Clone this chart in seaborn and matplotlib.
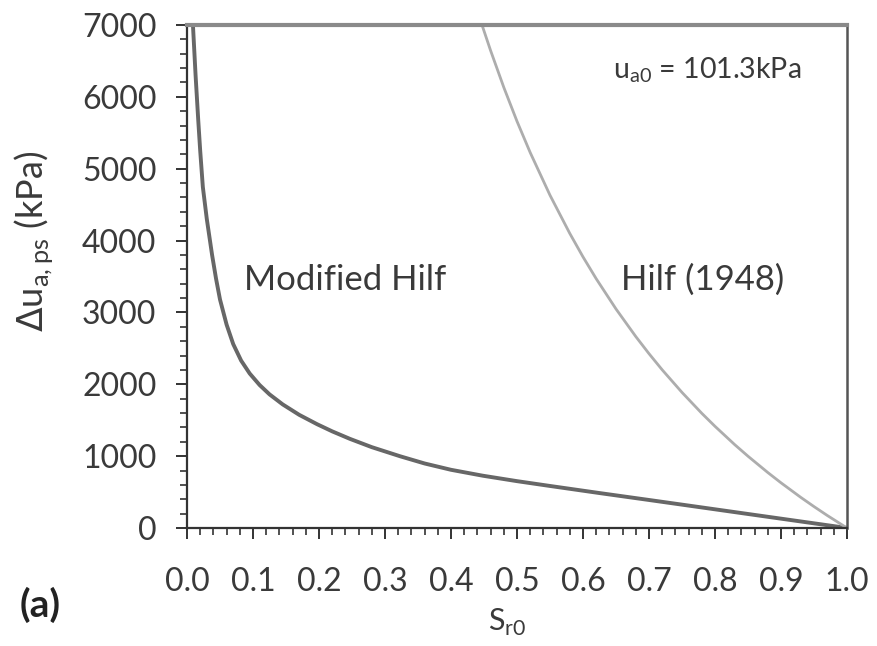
import numpy as np
import pandas as pd
import matplotlib
matplotlib.use("Agg")
import matplotlib.pyplot as plt
import seaborn as sns
from matplotlib.ticker import MultipleLocator

# --- data ---
s_modified = [0.009, 0.013, 0.017, 0.020, 0.024, 0.030, 0.038, 0.044, 0.05, 0.06,
              0.07, 0.082, 0.095, 0.11, 0.125, 0.145, 0.17, 0.197, 0.22, 0.247,
              0.28, 0.323, 0.36, 0.40, 0.448, 0.50, 0.55, 0.626, 0.70,
              0.777, 0.85, 0.93, 1.0]
du_modified = [7000, 6300, 5680, 5250, 4746, 4300, 3800, 3470, 3180, 2830,
               2560, 2330, 2150, 1990, 1860, 1720, 1575, 1445, 1345, 1240,
               1125, 998, 898, 810, 728, 652, 585, 485, 390,
               290, 195, 91, 0]

s_hilf = [0.447, 0.46, 0.48, 0.50, 0.52, 0.55, 0.58, 0.60, 0.62, 0.65, 0.68,
          0.70, 0.72, 0.75, 0.78, 0.80, 0.83, 0.85, 0.88, 0.90, 0.93, 0.95,
          0.97, 1.0]
du_hilf = [7000, 6644, 6132, 5660, 5225, 4631, 4099, 3773, 3469, 3048, 2664,
           2426, 2201, 1887, 1596, 1415, 1159, 999, 772, 629, 426, 298,
           175, 0]

x_ticks = [0.0, 0.1, 0.2, 0.3, 0.4, 0.5, 0.6, 0.7, 0.8, 0.9, 1.0]
y_ticks = [0, 1000, 2000, 3000, 4000, 5000, 6000, 7000]

sns.set_theme(style="white")
plt.rcParams['font.family'] = ['Lato', 'DejaVu Sans']

fig = plt.figure(figsize=(8.78, 6.46), dpi=100)
ax = fig.add_axes([187/878, 1 - 528/646, (847-187)/878, (528-25)/646])

df_m = pd.DataFrame({"S": s_modified, "du": du_modified})
df_h = pd.DataFrame({"S": s_hilf, "du": du_hilf})
sns.lineplot(data=df_m, x="S", y="du", ax=ax, color="#676767", linewidth=2.8,
             estimator=None, sort=False)
sns.lineplot(data=df_h, x="S", y="du", ax=ax, color="#adadad", linewidth=2.0,
             estimator=None, sort=False)

ax.set_xlim(0, 1.0)
ax.set_ylim(0, 7000)
ax.set_xticks(x_ticks)
ax.set_xticklabels([f"{v:.1f}" for v in x_ticks])
ax.set_yticks(y_ticks)
ax.set_yticklabels([str(v) for v in y_ticks])
ax.xaxis.set_minor_locator(MultipleLocator(0.02))
ax.yaxis.set_minor_locator(MultipleLocator(200))

txt = "#3a3a3a"
ax.tick_params(axis='both', which='major', direction='out', length=8, width=1.4,
               color="#333333", labelsize=23, labelcolor=txt,
               bottom=True, left=True, top=False, right=False)
ax.tick_params(axis='x', which='major', pad=20)
ax.tick_params(axis='y', which='major', pad=14)
ax.tick_params(axis='both', which='minor', direction='out', length=5, width=1.2,
               color="#333333", bottom=True, left=True, top=False, right=False)

for side in ['left', 'bottom']:
    ax.spines[side].set_color("#333333")
    ax.spines[side].set_linewidth(1.6)
ax.spines['top'].set_color("#8a8a8a")
ax.spines['top'].set_linewidth(3.0)
ax.spines['right'].set_color("#555555")
ax.spines['right'].set_linewidth(1.8)

ax.set_xlabel("")
ax.set_ylabel("")
fig.text(507/878, 1 - 622/646, r"S$_{\mathregular{r0}}$", ha='center', va='center',
         fontsize=22, color=txt)
fig.text(34/878, 1 - 241/646, r"$\Delta$u$_{\mathregular{a,ps}}$ (kPa)", rotation=90,
         ha='center', va='center', fontsize=26, color=txt)
fig.text(40/878, 1 - 605/646, "(a)", ha='center', va='center', fontsize=28,
         fontweight='bold', color="#222222")

ax.text(0.239, 3451, "Modified Hilf", ha='center', va='center', fontsize=25,
        color=txt)
ax.text(0.782, 3451, "Hilf (1948)", ha='center', va='center', fontsize=25,
        color=txt)
ax.text(0.93, 6374, r"u$_{\mathregular{a0}}$ = 101.3kPa", ha='right', va='center',
        fontsize=20.5, color=txt)

fig.savefig("out.png", dpi=100, facecolor="white")
